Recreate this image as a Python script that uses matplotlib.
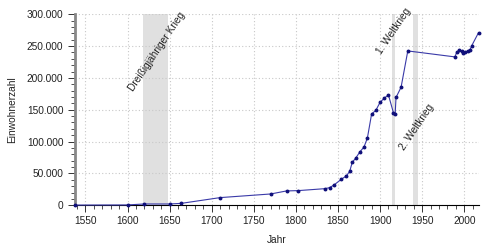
import matplotlib
matplotlib.use("Agg")
import matplotlib.pyplot as plt
from matplotlib.ticker import MultipleLocator, FuncFormatter

plt.rcParams["font.family"] = ["Liberation Sans", "DejaVu Sans"]
plt.rcParams["font.size"] = 7.3

years = [1537, 1600, 1620, 1650, 1664, 1710, 1770, 1789, 1803, 1835, 1840, 1845,
         1854, 1860, 1864, 1867, 1871, 1876, 1881, 1885, 1890, 1895, 1900, 1905,
         1910, 1916, 1918, 1919, 1925, 1933, 1989, 1991, 1994, 1997, 1999, 2001,
         2004, 2007, 2009, 2017]
population = [300, 500, 2000, 2000, 3000, 12000, 17700, 22500, 23000, 26100, 27700, 31500,
              40800, 46000, 53400, 67500, 73800, 83700, 91600, 105700, 143400, 149000, 161500, 168200,
              173200, 145000, 143900, 169300, 185300, 242400, 233000, 240000, 243500, 242000, 238500, 241300,
              242000, 244500, 250700, 271000]

wars = [(1618, 1648), (1914, 1918), (1939, 1945)]
war_labels = ["Dreißigjähriger Krieg", "1. Weltkrieg", "2. Weltkrieg"]
label_pos = [(1635, 241000), (1916, 274000), (1944, 122000)]

fig = plt.figure(figsize=(5, 2.5), dpi=100)
ax = fig.add_axes([0.149, 0.179, 0.808, 0.764])

for (a, b) in wars:
    ax.axvspan(a, b, color="#e0e0e0", lw=0, zorder=0)
for txt, (x, y) in zip(war_labels, label_pos):
    ax.text(x, y, txt, rotation=56, ha="center", va="center", color="#222222",
            zorder=3, clip_on=False)

ax.plot(years, population, color="#3a3aa8", lw=0.8, marker="o", ms=1.8,
        mfc="#10107a", mec="#10107a", zorder=4, clip_on=False)

ax.set_xlim(1537, 2017)
ax.set_ylim(0, 300000)
ax.xaxis.set_major_locator(MultipleLocator(50))
ax.xaxis.set_minor_locator(MultipleLocator(10))
ax.yaxis.set_major_locator(MultipleLocator(50000))
ax.yaxis.set_minor_locator(MultipleLocator(10000))
ax.yaxis.set_major_formatter(FuncFormatter(lambda v, p: f"{int(v):,}".replace(",", ".")))

ax.grid(True, which="major", color="#c8c8c8", ls=(0, (1, 2)), lw=0.8, zorder=1)
ax.set_axisbelow(True)
for s in ("top", "right"):
    ax.spines[s].set_visible(False)
ax.spines["left"].set_color("#888888")
ax.spines["left"].set_linewidth(2)
ax.spines["bottom"].set_color("#000000")
ax.spines["bottom"].set_linewidth(0.8)
ax.tick_params(which="major", length=5, width=0.7, color="#333333", pad=3, labelcolor="#222222")
ax.tick_params(which="minor", length=3, width=0.6, color="#333333")

ax.set_xlabel("Jahr", color="#222222")
ax.set_ylabel("Einwohnerzahl", color="#222222")
ax.yaxis.set_label_coords(-0.143, 0.5)
ax.xaxis.set_label_coords(0.5, -0.158)

fig.savefig("out.png", dpi=100)
